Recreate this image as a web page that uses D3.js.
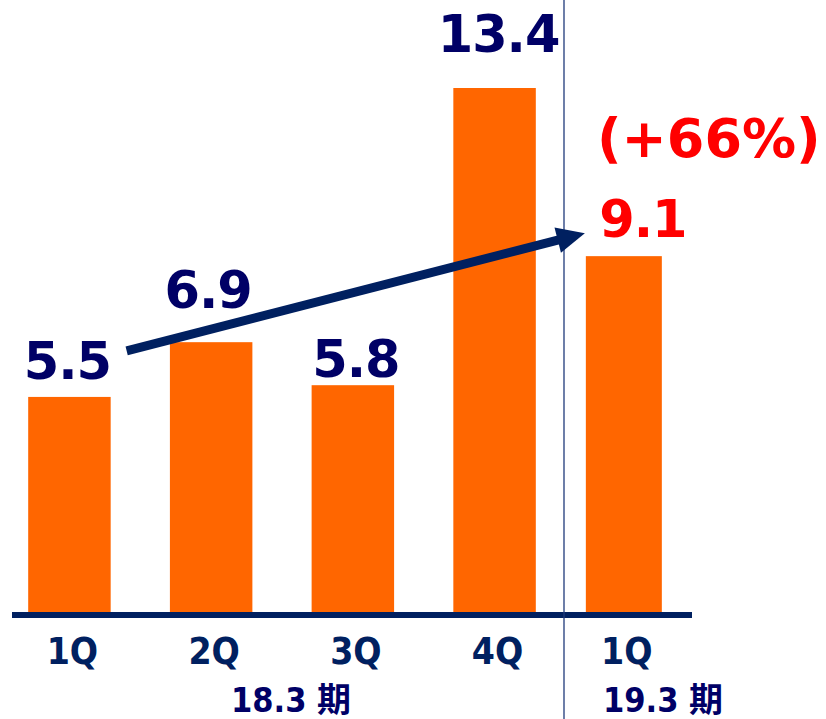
<!DOCTYPE html>
<html>
<head>
<meta charset="utf-8">
<script src="https://d3js.org/d3.v7.min.js"></script>
<style>
  body { margin: 0; background: #fff; }
  svg { display: block; }
</style>
</head>
<body>
<div id="chart"></div>
<script>
// values
var quarters1 = ["1Q", "2Q", "3Q", "4Q"];
var values1 = [5.5, 6.9, 5.8, 13.4];
var quarters2 = ["1Q"];
var values2 = [9.1];
var periods = ["18.3 期", "19.3 期"];
var growth = "(+66%)";

// label nudges (px) so the numbers sit where the original puts them
var labelGap1 = [18, 34, 8, 36];
var labelDx1 = [-2, -3, 3, 4];
var labelGap2 = [19];
var labelDx2 = [19];

var W = 826, H = 719;
var baseY = 612;
var navy = "#002060", ink = "#000066", orange = "#ff6600", red = "#ff0000";

var svg = d3.select("#chart").append("svg")
    .attr("width", W)
    .attr("height", H);

var y = d3.scaleLinear().domain([0, 13.4]).range([baseY, 88]);

// one band scale per fiscal period, split at the divider
var x1 = d3.scaleBand().domain(quarters1).range([-1, 565])
    .paddingInner(0.418).paddingOuter(0.206);
var x2 = d3.scaleBand().domain(quarters2).range([564, 692])
    .padding(0.255).align(0.42);

var panels = [
  {x: x1, keys: quarters1, vals: values1, gap: labelGap1, dx: labelDx1, color: ink},
  {x: x2, keys: quarters2, vals: values2, gap: labelGap2, dx: labelDx2, color: red}
];

panels.forEach(function(p) {
  var rows = p.keys.map(function(k, i) { return {k: k, v: p.vals[i], i: i}; });

  svg.append("g").selectAll("rect")
    .data(rows)
    .enter().append("rect")
    .attr("x", function(d) { return p.x(d.k); })
    .attr("width", p.x.bandwidth())
    .attr("y", function(d) { return y(d.v); })
    .attr("height", function(d) { return baseY - y(d.v); })
    .attr("fill", orange);

  svg.append("g").selectAll("text")
    .data(rows)
    .enter().append("text")
    .attr("x", function(d) { return p.x(d.k) + p.x.bandwidth() / 2 + p.dx[d.i]; })
    .attr("y", function(d) { return y(d.v) - p.gap[d.i]; })
    .attr("text-anchor", "middle")
    .attr("font-family", "DejaVu Sans, sans-serif")
    .attr("font-weight", "bold")
    .attr("font-size", "51px")
    .attr("letter-spacing", "-1px")
    .attr("fill", p.color)
    .text(function(d) { return d.v.toFixed(1); });

  // quarter tick labels
  svg.append("g").selectAll("text")
    .data(rows)
    .enter().append("text")
    .attr("x", function(d) { return p.x(d.k) + p.x.bandwidth() / 2 + 3; })
    .attr("y", 664)
    .attr("text-anchor", "middle")
    .attr("font-family", "DejaVu Sans Condensed, DejaVu Sans, sans-serif")
    .attr("font-weight", "bold")
    .attr("font-size", "37px")
    .attr("fill", navy)
    .text(function(d) { return d.k; });
});

// growth note above 9.1
svg.append("text")
    .attr("x", x2(quarters2[0]) + x2.bandwidth() / 2 + labelDx2[0] + 66)
    .attr("y", y(values2[0]) - labelGap2[0] - 80)
    .attr("text-anchor", "middle")
    .attr("font-family", "DejaVu Sans, sans-serif")
    .attr("font-weight", "bold")
    .attr("font-size", "54px")
    .attr("fill", red)
    .text(growth);

// period labels
var periodX = [
  (x1.range()[0] + x1.range()[1]) / 2 + 9,
  (x2.range()[0] + x2.range()[1]) / 2 + 35
];
svg.append("g").selectAll("text")
  .data(periods)
  .enter().append("text")
  .attr("x", function(d, i) { return periodX[i]; })
  .attr("y", 712)
  .attr("text-anchor", "middle")
  .attr("font-family", "DejaVu Sans Condensed, DejaVu Sans, Noto Sans CJK JP, sans-serif")
  .attr("font-weight", "bold")
  .attr("font-size", "34px")
  .attr("fill", ink)
  .text(function(d) { return d; });

// baseline
svg.append("line")
    .attr("x1", 12).attr("x2", x2.range()[1])
    .attr("y1", baseY + 3).attr("y2", baseY + 3)
    .attr("stroke", navy)
    .attr("stroke-width", 6);

// divider between periods
svg.append("line")
    .attr("x1", x2.range()[0]).attr("x2", x2.range()[0])
    .attr("y1", 0).attr("y2", H)
    .attr("stroke", "#1f3a7a")
    .attr("stroke-width", 1.3);

// growth arrow from 1Q to next year's 1Q
var ax0 = x1(quarters1[0]) + x1.bandwidth() + 16,
    ay0 = y(values1[0]) - 46,
    ax1 = x2(quarters2[0]) - 1,
    ay1 = y(values2[0]) - 23;
var ang = Math.atan2(ay1 - ay0, ax1 - ax0);
var headLen = 28, headHalf = 13;
var bx = ax1 - headLen * Math.cos(ang), by = ay1 - headLen * Math.sin(ang);

svg.append("line")
    .attr("x1", ax0).attr("y1", ay0)
    .attr("x2", bx + 2 * Math.cos(ang)).attr("y2", by + 2 * Math.sin(ang))
    .attr("stroke", navy)
    .attr("stroke-width", 9);

svg.append("path")
    .attr("d", d3.line()([
      [ax1, ay1],
      [bx - headHalf * Math.sin(ang), by + headHalf * Math.cos(ang)],
      [bx + headHalf * Math.sin(ang), by - headHalf * Math.cos(ang)]
    ]) + "Z")
    .attr("fill", navy);
</script>
</body>
</html>
